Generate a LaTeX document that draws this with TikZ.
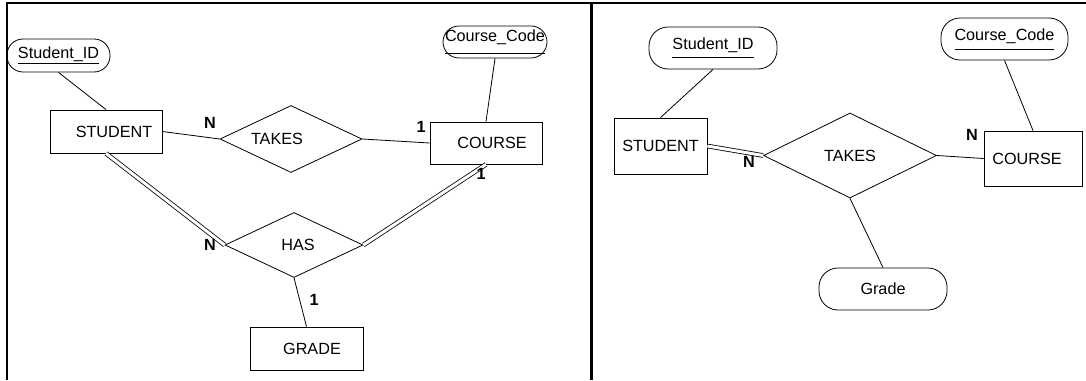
\documentclass[tikz,border=0pt]{standalone}
\usepackage{fontspec}
\setmainfont{Liberation Sans}
\usetikzlibrary{shapes.geometric}

\newcommand{\keyattr}[2]{\underline{\raisebox{0pt}[\height][#1]{#2}}}

\begin{document}
\begin{tikzpicture}[x=1pt,y=-1pt,line width=0.8pt,
   font=\fontsize{16.2}{19}\selectfont,
   entity/.style={rectangle,draw,inner sep=0pt},
   relation/.style={diamond,draw,inner sep=0pt,aspect=2},
   attrib/.style={rectangle,draw,rounded corners=16pt,inner sep=0pt},
   card/.style={font=\fontsize{16.2}{19}\selectfont\bfseries,inner sep=0pt},
   total/.style={double,double distance=3pt}]
   \useasboundingbox (0,0) rectangle (1086,380);
   \draw[line width=2pt] (7,380) -- (7,3) -- (1086,3);
   \draw[line width=3pt] (591,3) -- (591,380);

   \node at (58.5,55.5) [attrib,minimum width=103,minimum height=33] (sidL) {\keyattr{3pt}{Student\_ID}};
   \node at (495,42) [attrib,minimum width=104,minimum height=32] (ccL) {\keyattr{10pt}{Course\_Code}};
   \node at (106,131.5) [entity,minimum width=112,minimum height=43] (studL) {\hspace*{16pt}STUDENT};
   \node at (486,143) [entity,minimum width=112,minimum height=42] (courL) {\hspace*{12pt}COURSE};
   \node at (291,139) [relation,minimum width=142,minimum height=67] (takesL) {TAKES\hspace*{28pt}};
   \node at (294,245) [relation,minimum width=138,minimum height=65] (hasL) {\hspace*{8pt}HAS};
   \node at (306.5,348.5) [entity,minimum width=113,minimum height=43] (gradeL) {\hspace*{11pt}GRADE};
   \draw (sidL.south) -- (studL.north) (ccL.south) -- (courL.north);
   \draw (studL.east) -- (takesL.west) (takesL.east) -- (courL.west);
   \draw[total] (studL.south) -- (hasL.west);
   \draw[total] (courL.south) -- (hasL.east);
   \draw (hasL.south) -- (gradeL.north);
   \node at (210,123) [card] (nA) {N};
   \node at (421,127) [card] (oA) {1};
   \node at (210,245) [card] (nB) {N};
   \node at (481,174) [card] (oB) {1};
   \node at (314,300) [card] (oC) {1};

   \node at (713,48) [attrib,rounded corners=19pt,minimum width=128,minimum height=42] (sidR) {\keyattr{6pt}{Student\_ID}};
   \node at (1004.5,39) [attrib,rounded corners=19pt,minimum width=127,minimum height=42] (ccR) {\keyattr{7pt}{Course\_Code}};
   \node at (660.5,146) [entity,minimum width=93,minimum height=56] (studR) {STUDENT};
   \node at (1033,158.5) [entity,minimum width=98,minimum height=55] (courR) {COURSE\hspace*{12pt}};
   \node at (850,155.5) [relation,minimum width=173,minimum height=85] (takesR) {TAKES};
   \node at (883,289) [attrib,rounded corners=19pt,minimum width=128,minimum height=42] (gradeR) {Grade};
   \draw (sidR.south) -- (studR.north) (ccR.south) -- (courR.north);
   \draw[total] (studR.east) -- (takesR.west);
   \draw (takesR.east) -- (courR.west) (takesR.south) -- (gradeR.north);
   \node at (749,162) [card] (nC) {N};
   \node at (972,135) [card] (nD) {N};
\end{tikzpicture}
\end{document}
